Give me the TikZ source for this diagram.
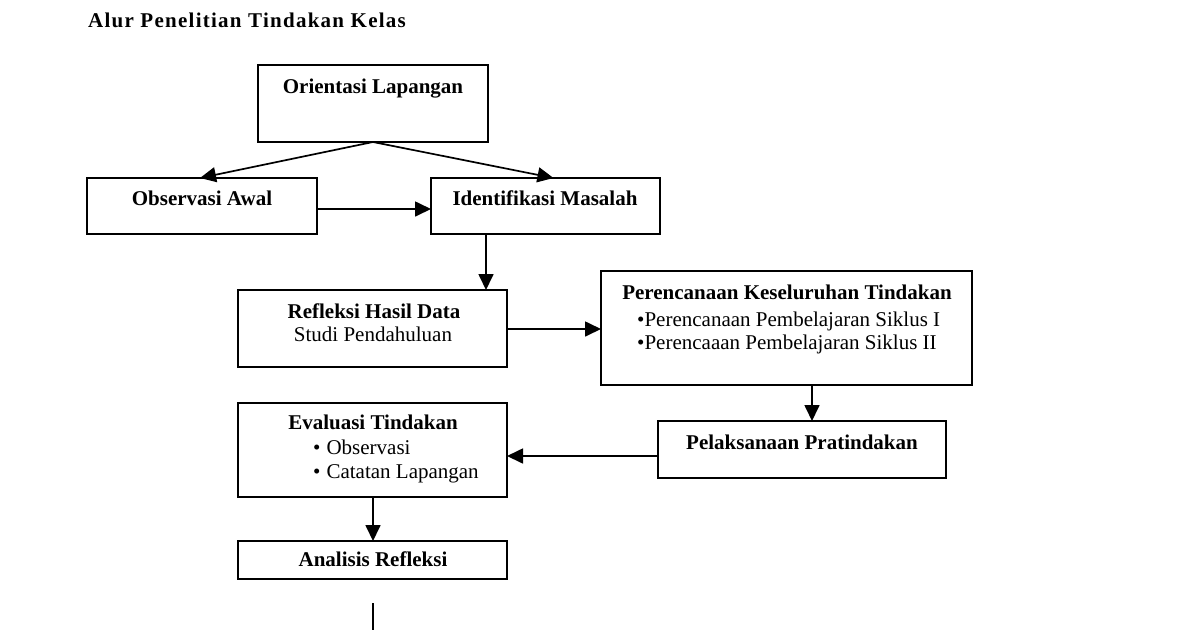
\documentclass[tikz,border=0pt]{standalone}
\usepackage{fontspec}
\setmainfont{Liberation Serif}
\usetikzlibrary{arrows.meta}
\begin{document}
\begin{tikzpicture}[x=1pt,y=-1pt,
  box/.style={draw,line width=1.7pt,inner sep=0pt,outer sep=0pt},
  lbl/.style={font=\fontsize{21}{24}\selectfont\bfseries,inner sep=0pt,anchor=base},
  txt/.style={font=\fontsize{21}{24}\selectfont,inner sep=0pt,anchor=base west},
  arr/.style={line width=1.7pt,-{Triangle[length=16pt,width=15pt]}}]
\useasboundingbox (0,0) rectangle (1200,630);
\fill[white] (0,0) rectangle (1200,630);
% title
\node[font=\fontsize{21}{24}\selectfont\bfseries\addfontfeature{LetterSpace=6},inner sep=0pt,anchor=base west] (title) at (88,27) {Alur Penelitian Tindakan Kelas};
% boxes
\node[box,minimum width=230pt,minimum height=77pt] (ori) at (373,103.5) {};
\node[box,minimum width=230pt,minimum height=56pt] (obs) at (202,206) {};
\node[box,minimum width=229pt,minimum height=56pt] (ide) at (545.5,206) {};
\node[box,minimum width=269pt,minimum height=77pt] (ref) at (372.5,328.5) {};
\node[box,minimum width=371pt,minimum height=114pt] (per) at (786.5,328) {};
\node[box,minimum width=288pt,minimum height=57pt] (pel) at (802,449.5) {};
\node[box,minimum width=269pt,minimum height=94pt] (eva) at (372.5,450) {};
\node[box,minimum width=269pt,minimum height=38pt] (ana) at (372.5,560) {};
% labels
\node[lbl] (tori) at (373,93) {Orientasi Lapangan};
\node[lbl] (tobs) at (202,205) {Observasi Awal};
\node[lbl] (tide) at (545,205) {Identifikasi Masalah};
\node[lbl] (tref) at (374,318) {Refleksi Hasil Data};
\node[txt,anchor=base] (tref2) at (373,341) {Studi Pendahuluan};
\node[lbl] (tper) at (787,299) {Perencanaan Keseluruhan Tindakan};
\node[txt] (tper1) at (637,326) {•Perencanaan Pembelajaran Siklus I};
\node[txt] (tper2) at (637,349) {•Perencaaan Pembelajaran Siklus II};
\node[lbl] (tpel) at (802,449) {Pelaksanaan Pratindakan};
\node[lbl] (teva) at (373,429) {Evaluasi Tindakan};
\node[txt] (teva1) at (313,454) {•\hspace{6pt}Observasi};
\node[txt] (teva2) at (313,478) {•\hspace{6pt}Catatan Lapangan};
\node[lbl] (tana) at (373,566) {Analisis Refleksi};
% helper coordinates
\coordinate (c1) at (486,0);
\coordinate (c2) at (812,0);
\coordinate (c3) at (0,456);
\coordinate (c4) at (0,209);
\coordinate (c5) at (0,329);
\coordinate (c6) at (373,0);
\coordinate (tail) at (373,603);
\coordinate (tailend) at (373,630);
% connectors
\draw[arr] (ori.south) -- ([xshift=-2pt]obs.north);
\draw[arr] (ori.south) -- ([xshift=8pt]ide.north);
\draw[arr] (obs.east |- c4) -- (ide.west |- c4);
\draw[arr] (ide.south -| c1) -- (ref.north -| c1);
\draw[arr] (ref.east |- c5) -- (per.west |- c5);
\draw[arr] (per.south -| c2) -- (pel.north -| c2);
\draw[arr] (pel.west |- c3) -- (eva.east |- c3);
\draw[arr] (eva.south -| c6) -- (ana.north -| c6);
\draw[line width=1.7pt] (tail) -- (tailend);
\end{tikzpicture}
\end{document}
